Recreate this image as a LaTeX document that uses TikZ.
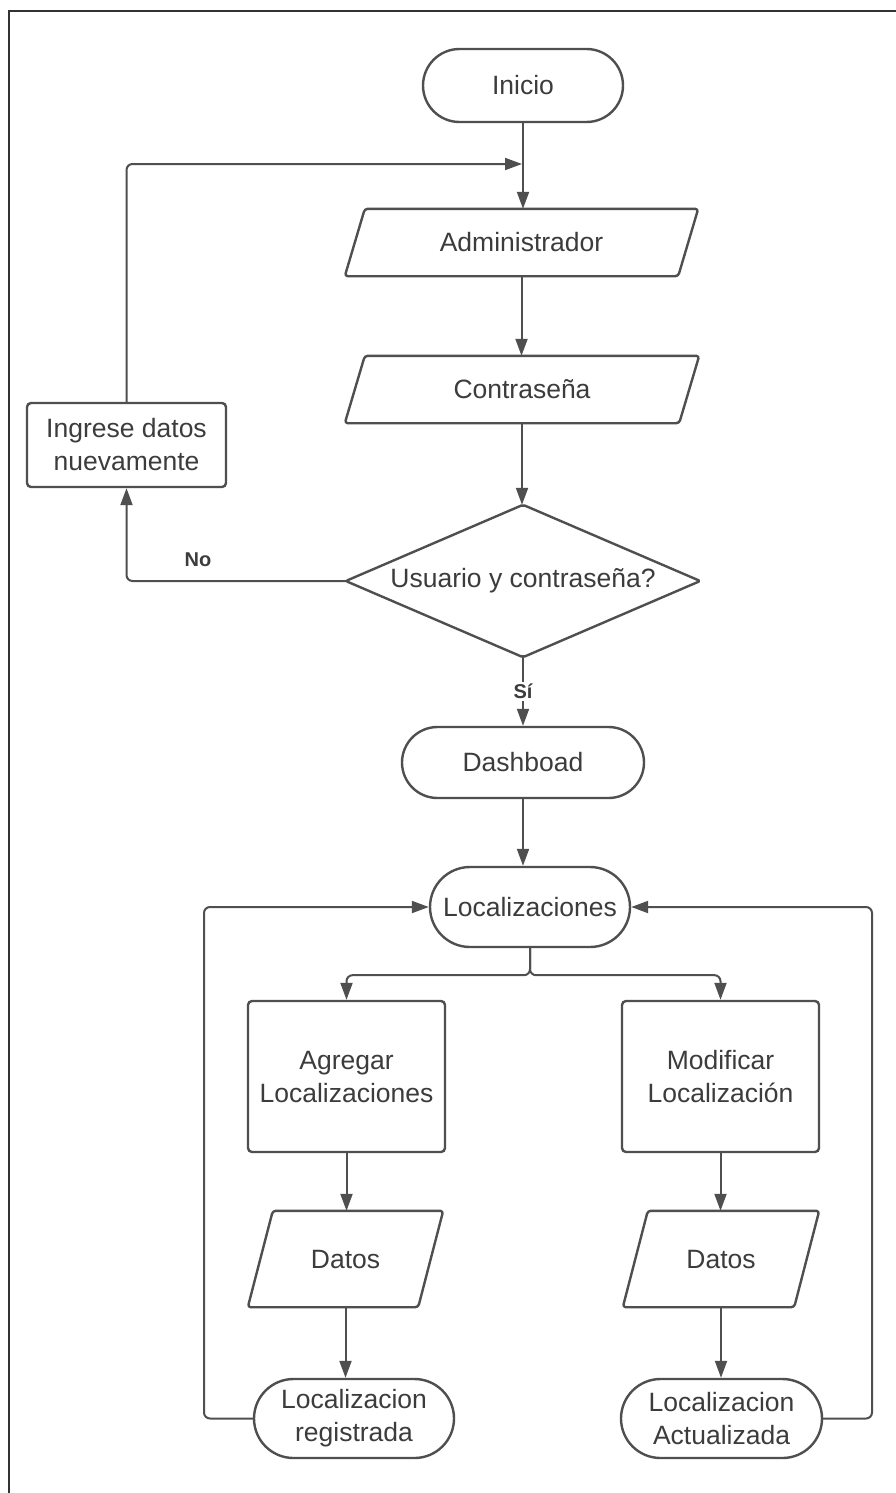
\documentclass[tikz,border=0pt]{standalone}
\usepackage{fontspec}
\setmainfont{Liberation Sans}
\usetikzlibrary{arrows.meta,shapes.misc,calc}
\definecolor{ln}{HTML}{4F4F4F}
\definecolor{tx}{HTML}{3C3C3C}
\begin{document}
\begin{tikzpicture}[x=1pt,y=-1pt,
  shp/.style={draw=ln, line width=2.4pt, text=tx, font=\fontsize{26.5}{33}\selectfont, align=center, inner sep=0pt},
  term/.style={shp, rounded rectangle},
  box/.style={shp, rectangle, rounded corners=4pt},
  ghost/.style={text=tx, font=\fontsize{26.5}{33}\selectfont, align=center, inner sep=0pt},
  pline/.style={draw=ln, line width=2.4pt, rounded corners=3pt, line join=round},
  arr/.style={draw=ln, line width=2pt, -{Triangle[length=17pt,width=12pt]}, rounded corners=6pt},
  lbl/.style={text=tx, font=\bfseries\fontsize{20}{24}\selectfont}]
\useasboundingbox (0,0) rectangle (896,1493);
\fill[white] (0,0) rectangle (896,1493);
\draw[line width=2pt, color=black!80] (9,1493) -- (9,11) -- (896,11);

% nodes
\node[term, minimum width=200pt, minimum height=73pt] (inicio) at (523,85.5) {Inicio};
\node[ghost, minimum width=353pt, minimum height=67pt] (admin) at (521.5,242.5) {Administrador};
\draw[pline] ([xshift=20pt]admin.north west) -- (admin.north east) -- ([xshift=-20pt]admin.south east) -- (admin.south west) -- cycle;
\node[ghost, minimum width=354pt, minimum height=67pt] (contr) at (522,389.5) {Contraseña};
\draw[pline] ([xshift=20pt]contr.north west) -- (contr.north east) -- ([xshift=-20pt]contr.south east) -- (contr.south west) -- cycle;
\node[ghost, minimum width=354pt, minimum height=152pt] (dec) at (523,581) {Usuario y contraseña?};
\draw[pline, rounded corners=2pt] (dec.north) -- (dec.east) -- (dec.south) -- (dec.west) -- cycle;
\node[box, minimum width=199pt, minimum height=84pt] (ingr) at (126.5,445) {Ingrese datos\\nuevamente};
\node[term, minimum width=242pt, minimum height=71pt] (dash) at (523,762.5) {Dashboad};
\node[term, minimum width=200pt, minimum height=80pt] (loc) at (530,907) {Localizaciones};
\node[box, minimum width=197pt, minimum height=151pt] (agr) at (346.5,1076.5) {Agregar\\Localizaciones};
\node[box, minimum width=197pt, minimum height=151pt] (mod) at (720.5,1076.5) {Modificar\\Localización};
\node[ghost, minimum width=195pt, minimum height=96pt] (datL) at (345.5,1259) {Datos};
\draw[pline] ([xshift=25pt]datL.north west) -- (datL.north east) -- ([xshift=-25pt]datL.south east) -- (datL.south west) -- cycle;
\node[ghost, minimum width=196pt, minimum height=96pt] (datR) at (721,1259) {Datos};
\draw[pline] ([xshift=25pt]datR.north west) -- (datR.north east) -- ([xshift=-25pt]datR.south east) -- (datR.south west) -- cycle;
\node[term, minimum width=200pt, minimum height=79pt] (reg) at (354,1418.5) {Localizacion\\registrada};
\node[term, minimum width=201pt, minimum height=79pt] (act) at (721.5,1418.5) {Localizacion\\Actualizada};

% connectors
\coordinate (join) at (522,164);
\coordinate (lx) at (204,0);
\coordinate (rx) at (872,0);
\draw[arr] (inicio.south) -- (inicio.south |- admin.north);
\draw[arr] (ingr.north) |- (join);
\draw[arr] (admin.south) -- (admin.south |- contr.north);
\draw[arr] (contr.south) -- (contr.south |- dec.north);
\draw[arr] (dec.west) -| (ingr.south);
\node[lbl] (no) at (198,560) {No};
\draw[arr] (dec.south) -- node[lbl, fill=white, inner sep=2pt] (si) {Sí} (dash.north);
\draw[arr] (dash.south) -- (dash.south |- loc.north);
\draw[arr] (loc.south) -- ++(0,27) -| (agr.north);
\draw[arr] (loc.south) -- ++(0,27) -| (mod.north);
\draw[arr] (agr.south) -- (agr.south |- datL.north);
\draw[arr] (mod.south) -- (mod.south |- datR.north);
\draw[arr] (datL.south) -- (datL.south |- reg.north);
\draw[arr] (datR.south) -- (datR.south |- act.north);
\draw[arr] (reg.west) -- (reg.west -| lx) |- (loc.west);
\draw[arr] (act.east) -- (act.east -| rx) |- (loc.east);
\end{tikzpicture}
\end{document}
